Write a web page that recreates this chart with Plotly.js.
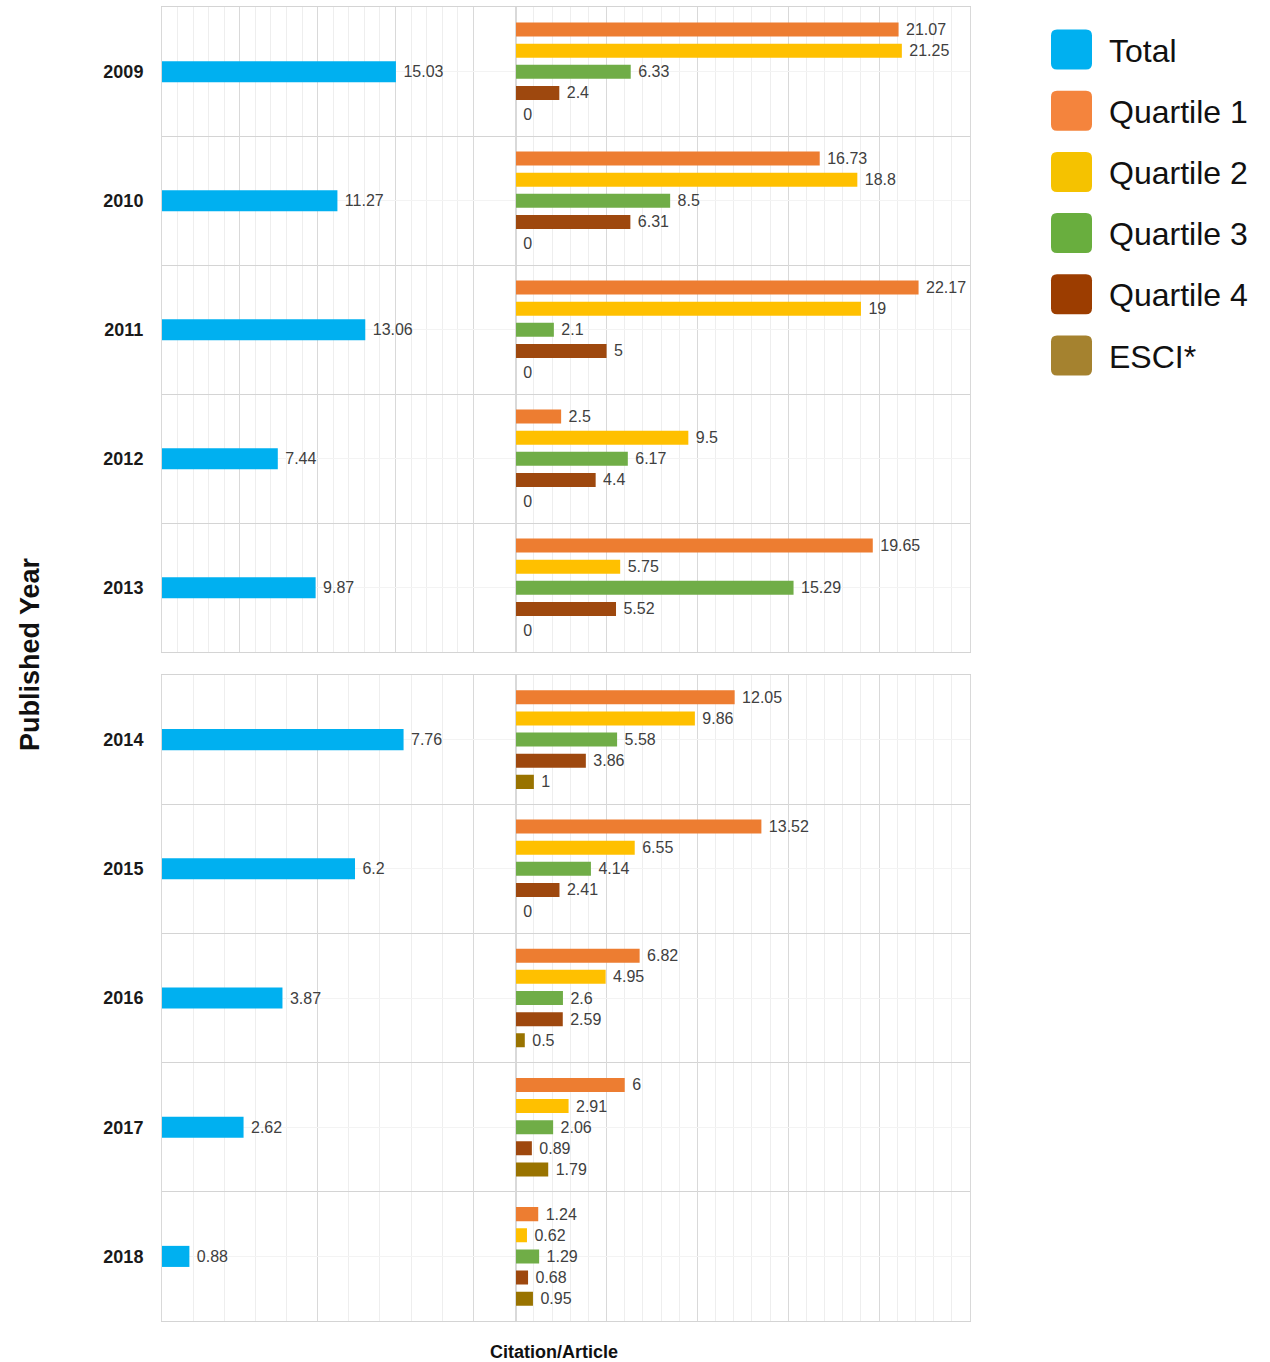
<!DOCTYPE html>
<html>
<head>
<meta charset="utf-8">
<script src="https://cdn.plot.ly/plotly-3.0.1.min.js"></script>
<style>html,body{margin:0;padding:0;background:#fff}#chart{width:1270px;height:1362px}</style>
</head>
<body>
<div id="chart"></div>
<script>
// ---- data ----
const years = [2009, 2010, 2011, 2012, 2013, 2014, 2015, 2016, 2017, 2018];
const total = [15.03, 11.27, 13.06, 7.44, 9.87, 7.76, 6.2, 3.87, 2.62, 0.88];
const q1 = [21.07, 16.73, 22.17, 2.5, 19.65, 12.05, 13.52, 6.82, 6, 1.24];
const q2 = [21.25, 18.8, 19, 9.5, 5.75, 9.86, 6.55, 4.95, 2.91, 0.62];
const q3 = [6.33, 8.5, 2.1, 6.17, 15.29, 5.58, 4.14, 2.6, 2.06, 1.29];
const q4 = [2.4, 6.31, 5, 4.4, 5.52, 3.86, 2.41, 2.59, 0.89, 0.68];
const esci = [0, 0, 0, 0, 0, 1, 0, 0.5, 1.79, 0.95];
const seriesNames = ['Total', 'Quartile 1', 'Quartile 2', 'Quartile 3', 'Quartile 4', 'ESCI*'];
const yTitle = 'Published Year';
const xTitle = 'Citation/Article';

// ---- styles / layout geometry ----
const W = 1270, H = 1362;
const FONT = '"Liberation Sans", Arial, Helvetica, sans-serif';
const fx = p => p / W, fy = p => 1 - p / H;
const barColors = ['#00B0F0', '#ED7D31', '#FFC000', '#70AD47', '#9E480E', '#997300'];
const legendColors = ['#00B0F0', '#F4843D', '#F5C200', '#69AE3E', '#9C3D00', '#A5822F'];
const quartileSeries = [q1, q2, q3, q4, esci];

const colL = [162, 515.7], colR = [515.7, 970], leftGridEnd = 473.3;
const panels = [
  {start: 0, end: 5, y: 'y', xl: 'x', xr: 'x2', pxTop: 7.3, pxBot: 652.3, leftMax: 20},
  {start: 5, end: 10, y: 'y2', xl: 'x3', xr: 'x4', pxTop: 675, pxBot: 1321, leftMax: 10}
];
const ROW_SLOT = 0.1636, QBAR = 0.1085, TBAR = 0.163;
const label = v => '\u00a0' + v;
const gridMajor = '#d9d9d9', gridMinor = '#eeeeee', rowLine = '#d4d4d4', rowCenter = '#f3f3f3';
const txtFont = {family: FONT, size: 16, color: '#404040'};

function seq(a, b) { const r = []; for (let i = a; i <= b; i++) r.push(i); return r; }

const traces = [];
panels.forEach(p => {
  const yv = years.slice(p.start, p.end);
  const tv = total.slice(p.start, p.end);
  traces.push({
    type: 'bar', orientation: 'h', x: tv, y: yv, xaxis: p.xl, yaxis: p.y,
    name: seriesNames[0], marker: {color: barColors[0], line: {width: 0}},
    width: TBAR, offset: -TBAR / 2,
    text: tv.map(label), textposition: 'outside', constraintext: 'none', cliponaxis: false,
    textfont: txtFont, hoverinfo: 'none', showlegend: false
  });
  quartileSeries.forEach((s, k) => {
    const sv = s.slice(p.start, p.end);
    traces.push({
      type: 'bar', orientation: 'h', x: sv, y: yv, xaxis: p.xr, yaxis: p.y,
      name: seriesNames[k + 1], marker: {color: barColors[k + 1], line: {width: 0}},
      width: QBAR, offset: (k - 2) * ROW_SLOT - QBAR / 2,
      text: sv.map(label), textposition: 'outside', constraintext: 'none', cliponaxis: false,
      textfont: txtFont, hoverinfo: 'none', showlegend: false
    });
  });
});

function xAxis(domainPx, anchor, max, majorVals, minorVals) {
  return {
    domain: [fx(domainPx[0]), fx(domainPx[1])], anchor: anchor, range: [0, max],
    showticklabels: false, ticks: '', zeroline: false,
    tickmode: 'array', tickvals: majorVals, showgrid: true, gridcolor: gridMajor, gridwidth: 1,
    minor: {tickmode: 'array', tickvals: minorVals, showgrid: true, gridcolor: gridMinor, gridwidth: 1, ticks: ''},
    showline: true, mirror: true, linecolor: rowLine, linewidth: 1, fixedrange: true
  };
}
function yAxis(p, anchor) {
  const yv = years.slice(p.start, p.end);
  return {
    domain: [fy(p.pxBot), fy(p.pxTop)], anchor: anchor,
    range: [yv[yv.length - 1] + 0.5, yv[0] - 0.5],
    tickmode: 'array', tickvals: yv, ticktext: yv.map(y => '<b>' + y + '</b>'),
    tickfont: {family: FONT, size: 18, color: '#1a1a1a'},
    ticks: 'outside', ticklen: 14, tickcolor: 'rgba(0,0,0,0)',
    showgrid: true, gridcolor: rowCenter, zeroline: false,
    minor: {tickmode: 'array', tickvals: yv.slice(1).map(y => y - 0.5), showgrid: true, gridcolor: rowLine, ticks: ''},
    showline: true, mirror: 'all', linecolor: gridMajor, linewidth: 1, fixedrange: true
  };
}

const leftMaxTop = panels[0].leftMax / (leftGridEnd - colL[0]) * (colL[1] - colL[0]);
const leftMaxBot = panels[1].leftMax / (leftGridEnd - colL[0]) * (colL[1] - colL[0]);

const layout = {
  width: W, height: H, margin: {l: 0, r: 0, t: 0, b: 0},
  paper_bgcolor: '#fff', plot_bgcolor: '#fff',
  barmode: 'overlay', showlegend: false,
  font: {family: FONT, color: '#333'},
  xaxis: xAxis(colL, 'y', leftMaxTop, [0, 5, 10, 15, 20], seq(0, 20)),
  xaxis2: xAxis(colR, 'y', 25, [0, 5, 10, 15, 20, 25], seq(0, 25)),
  xaxis3: xAxis(colL, 'y2', leftMaxBot, [0, 5, 10], seq(0, 10)),
  xaxis4: xAxis(colR, 'y2', 25, [0, 5, 10, 15, 20, 25], seq(0, 25)),
  yaxis: yAxis(panels[0], 'x'),
  yaxis2: yAxis(panels[1], 'x3'),
  annotations: [],
  shapes: []
};

layout.annotations.push({
  xref: 'paper', yref: 'paper', x: fx(30), y: fy(654), text: '<b>' + yTitle + '</b>',
  textangle: -90, showarrow: false, xanchor: 'center', yanchor: 'middle',
  font: {family: FONT, size: 27, color: '#111'}
});
layout.annotations.push({
  xref: 'paper', yref: 'paper', x: fx(554), y: fy(1352), text: '<b>' + xTitle + '</b>',
  showarrow: false, xanchor: 'center', yanchor: 'middle',
  font: {family: FONT, size: 18, color: '#111'}
});

function roundRect(x0, y0, x1, y1, r) {
  const X = fx, Y = fy;
  return `M${X(x0 + r)},${Y(y0)} L${X(x1 - r)},${Y(y0)} Q${X(x1)},${Y(y0)} ${X(x1)},${Y(y0 + r)} ` +
         `L${X(x1)},${Y(y1 - r)} Q${X(x1)},${Y(y1)} ${X(x1 - r)},${Y(y1)} ` +
         `L${X(x0 + r)},${Y(y1)} Q${X(x0)},${Y(y1)} ${X(x0)},${Y(y1 - r)} ` +
         `L${X(x0)},${Y(y0 + r)} Q${X(x0)},${Y(y0)} ${X(x0 + r)},${Y(y0)} Z`;
}
seriesNames.forEach((n, i) => {
  const cy = 49.5 + i * 61.2;
  layout.shapes.push({
    type: 'path', xref: 'paper', yref: 'paper',
    path: roundRect(1051, cy - 20, 1092, cy + 20, 6),
    fillcolor: legendColors[i], line: {width: 0}, layer: 'above'
  });
  layout.annotations.push({
    xref: 'paper', yref: 'paper', x: fx(1107), y: fy(cy + 1), text: n,
    showarrow: false, xanchor: 'left', yanchor: 'middle',
    font: {family: FONT, size: 32, color: '#111'}
  });
});

Plotly.newPlot('chart', traces, layout, {displayModeBar: false, staticPlot: true});
</script>
</body>
</html>
